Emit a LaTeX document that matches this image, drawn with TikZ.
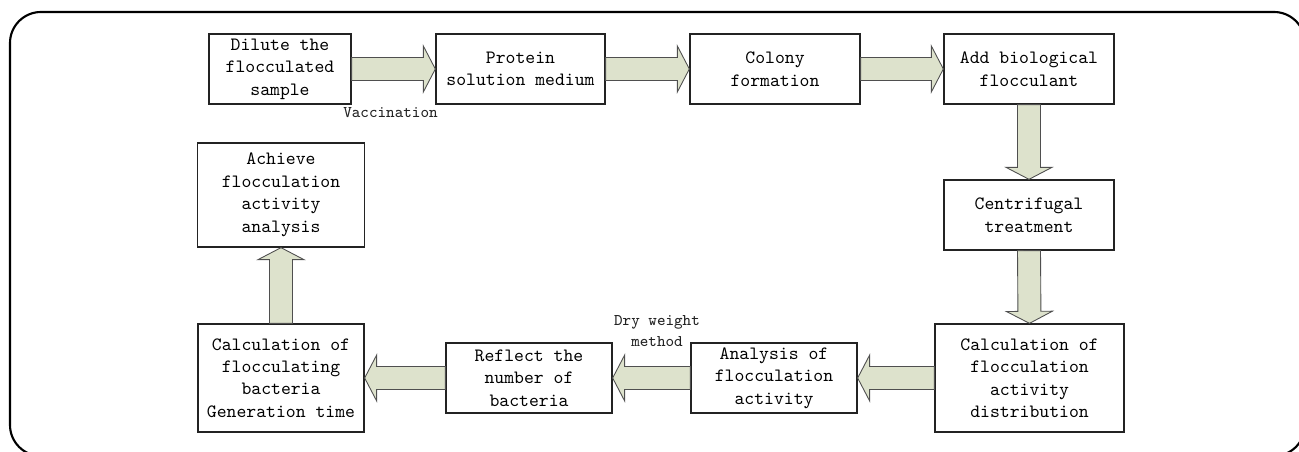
\documentclass[tikz,border=0pt]{standalone}
\usepackage{tikz}
\usetikzlibrary{calc,positioning}
\definecolor{sage}{RGB}{221,226,204}
\definecolor{ink}{RGB}{35,35,35}
\newcommand{\boxfont}{\fontsize{10.7}{12.8}\selectfont\ttfamily}
\newcommand{\tagfont}{\fontsize{9.3}{11.9}\selectfont\ttfamily}
\tikzset{
  stage/.style={draw=ink,line width=0.75pt,fill=white,inner sep=0pt,
    minimum width=#1,minimum height=14mm,align=center,font=\boxfont},
  stage/.default=34mm,
  tag/.style={font=\tagfont,text=ink,align=center},
  blockarrow/.style={draw=ink!80,line width=0.5pt,fill=sage,line join=miter},
  frame/.style={draw=black,line width=1.2pt,rounded corners=6.2mm},
}
% fat outlined arrow from #1 to #2
\newcommand{\flowarrow}[2]{%
  \coordinate (hb) at ($(#2)!2.4mm!(#1)$);
  \draw[blockarrow] ($(#1)!2.3mm!90:(#2)$) -- ($(hb)!2.3mm!90:(#2)$)
    -- ($(hb)!4.6mm!90:(#2)$) -- (#2) -- ($(hb)!4.6mm!-90:(#2)$)
    -- ($(hb)!2.3mm!-90:(#2)$) -- ($(#1)!2.3mm!-90:(#2)$) -- cycle;}

\begin{document}
\begin{tikzpicture}
  \useasboundingbox (0,0) rectangle (25.98,9.04);
  \clip (0,0) rectangle (25.98,9.04);
  \draw[frame] (0.2,-0.08) rectangle (26.1,8.8);
  % top row
  \node[stage=28.4mm] (dilute) at (5.60,7.66) {Dilute the\\flocculated\\sample};
  \node[stage=33.8mm] (protein) at (10.41,7.66) {Protein\\solution medium};
  \node[stage] (colony) at (15.50,7.66) {Colony\\formation};
  \node[stage] (add) at (20.58,7.66) {Add biological\\flocculant};
  % right column
  \node[stage] (centri) at (20.58,4.74) {Centrifugal\\treatment};
  \node[stage=37.8mm,minimum height=21.6mm] (distrib) at (20.59,1.48) {Calculation of\\flocculation\\activity\\distribution};
  % bottom row
  \node[stage=33.2mm] (analysis) at (15.48,1.48) {Analysis of\\flocculation\\activity};
  \node[stage=33.2mm] (reflect) at (10.58,1.48) {Reflect the\\number of\\bacteria};
  \node[stage=33.2mm,minimum height=21.6mm] (bacteria) at (5.62,1.48) {Calculation of\\flocculating\\bacteria\\Generation time};
  \node[stage=33.4mm,minimum height=20.8mm] (achieve) at (5.62,5.14) {Achieve\\flocculation\\activity\\analysis};
  % connectors
  \flowarrow{dilute.east}{protein.west}
  \flowarrow{protein.east}{colony.west}
  \flowarrow{colony.east}{add.west}
  \flowarrow{add.south}{centri.north}
  \flowarrow{centri.south}{distrib.north}
  \flowarrow{distrib.west}{analysis.east}
  \flowarrow{analysis.west}{reflect.east}
  \flowarrow{reflect.west}{bacteria.east}
  \flowarrow{bacteria.north}{achieve.south}
  % labels
  \node[tag] (vacc) at (7.81,6.78) {Vaccination};
  \node[tag] (dryw) at (13.14,2.41) {Dry weight\\method};
\end{tikzpicture}
\end{document}
